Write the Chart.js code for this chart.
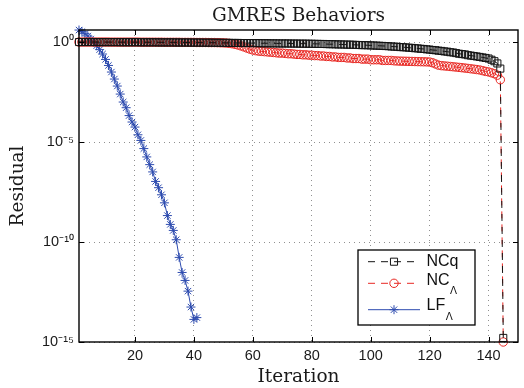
<!DOCTYPE html>
<html><head><meta charset="utf-8">
<script src="https://cdn.jsdelivr.net/npm/chart.js@4"></script>
<style>html,body{margin:0;padding:0;background:#fff}canvas{display:block}</style>
</head><body>
<canvas id="c" width="524" height="388"></canvas>
<script>
// ---- data ----
const iterations = [1,2,3,4,5,6,7,8,9,10,11,12,13,14,15,16,17,18,19,20,21,22,23,24,25,26,27,28,29,30,31,32,33,34,35,36,37,38,39,40,41,42,43,44,45,46,47,48,49,50,51,52,53,54,55,56,57,58,59,60,61,62,63,64,65,66,67,68,69,70,71,72,73,74,75,76,77,78,79,80,81,82,83,84,85,86,87,88,89,90,91,92,93,94,95,96,97,98,99,100,101,102,103,104,105,106,107,108,109,110,111,112,113,114,115,116,117,118,119,120,121,122,123,124,125,126,127,128,129,130,131,132,133,134,135,136,137,138,139,140,141,142,143,144,145];

const seriesNames = ['NCq', 'NC', 'LF'];
const seriesSubs  = ['', 'Λ', 'Λ'];

const ncq = [
 1.0,1.0,1.0,1.0,1.0,1.0,0.99,0.99,0.99,0.99,
 0.99,0.99,0.99,0.99,0.98,0.98,0.98,0.98,0.98,0.98,
 0.98,0.97,0.97,0.97,0.97,0.97,0.97,0.96,0.96,0.96,
 0.96,0.96,0.96,0.95,0.95,0.95,0.95,0.95,0.94,0.94,
 0.94,0.94,0.93,0.93,0.93,0.93,0.92,0.92,0.92,0.91,
 0.91,0.91,0.90,0.90,0.90,0.89,0.89,0.89,0.89,0.88,
 0.88,0.88,0.87,0.87,0.87,0.86,0.86,0.86,0.85,0.85,
 0.85,0.85,0.84,0.84,0.84,0.83,0.83,0.83,0.82,0.82,
 0.81,0.81,0.80,0.80,0.79,0.78,0.78,0.77,0.76,0.76,
 0.75,0.74,0.74,0.73,0.72,0.71,0.70,0.70,0.69,0.68,
 0.67,0.66,0.65,0.64,0.63,0.62,0.60,0.59,0.58,0.56,
 0.55,0.54,0.52,0.51,0.49,0.48,0.46,0.45,0.43,0.42,
 0.40,0.39,0.37,0.36,0.34,0.33,0.31,0.30,0.28,0.26,
 0.25,0.24,0.22,0.21,0.20,0.19,0.18,0.17,0.16,0.15,
 0.13,0.11,0.085,0.047,1.6e-15
];

const ncLambda = [
 1.0,1.0,1.0,1.0,1.0,1.0,1.0,1.0,1.0,1.0,
 1.0,0.99,0.99,0.99,0.99,0.99,0.99,0.99,0.99,0.99,
 0.99,0.98,0.98,0.98,0.98,0.98,0.98,0.98,0.98,0.97,
 0.97,0.97,0.97,0.97,0.97,0.96,0.96,0.96,0.96,0.96,
 0.95,0.95,0.95,0.95,0.94,0.94,0.94,0.93,0.92,0.91,
 0.89,0.86,0.82,0.77,0.71,0.64,0.57,0.50,0.44,0.40,
 0.37,0.35,0.34,0.33,0.32,0.31,0.30,0.29,0.28,0.28,
 0.27,0.26,0.26,0.25,0.24,0.24,0.23,0.23,0.22,0.22,
 0.21,0.21,0.20,0.20,0.19,0.19,0.18,0.18,0.17,0.17,
 0.17,0.16,0.16,0.15,0.15,0.15,0.14,0.14,0.14,0.13,
 0.13,0.13,0.13,0.12,0.12,0.12,0.12,0.115,0.113,0.111,
 0.110,0.109,0.108,0.107,0.106,0.105,0.104,0.103,0.102,0.100,
 0.092,0.080,0.070,0.066,0.064,0.062,0.060,0.058,0.056,0.054,
 0.052,0.050,0.048,0.046,0.044,0.042,0.040,0.037,0.034,0.032,
 0.029,0.026,0.022,0.013,1.0e-15
];

const lfLambda = [
 3.98,3.31,2.63,2.0,1.41,1.0,0.66,0.417,0.251,0.135,
 0.0676,0.0316,0.0141,6.3e-3,2.5e-3,1.0e-3,5.2e-4,2.1e-4,1.0e-4,5.6e-5,
 2.3e-5,1.2e-5,4.7e-6,1.8e-6,7.4e-7,3.2e-7,1.07e-7,5.2e-8,2.3e-8,9.1e-9,
 2.1e-9,7.6e-10,3.8e-10,1.3e-10,1.7e-11,3.0e-12,1.2e-12,3.5e-13,5.6e-14,1.35e-14,
 1.66e-14
];

const xTickValues = [20, 40, 60, 80, 100, 120, 140];
const xTickLabels = ['20', '40', '60', '80', '100', '120', '140'];
const yTickValues = [1e-15, 1e-10, 1e-5, 1];
const yTickLabels = ['10⁻¹⁵', '10⁻¹⁰', '10⁻⁵', '10⁰'];
const xRange = [1, 150];
const yRange = [1e-15, 4];

// ---- styles ----
const BLACK = 'rgb(20,20,20)';
const RED = 'rgb(232,40,35)';
const BLUE = 'rgb(45,75,175)';
const SERIF = '"DejaVu Serif", serif';
const SANS = '"Liberation Sans", Arial, sans-serif';

function drawMarker(ctx, style, r, x, y, color) {
  ctx.save();
  ctx.strokeStyle = color; ctx.lineWidth = 1; ctx.setLineDash([]);
  ctx.beginPath();
  if (style === 'rect') {
    const s = r * Math.SQRT1_2;
    ctx.rect(x - s, y - s, 2 * s, 2 * s);
  } else if (style === 'circle') {
    ctx.arc(x, y, r, 0, Math.PI * 2);
  } else if (style === 'star') {
    ctx.moveTo(x - r, y); ctx.lineTo(x + r, y);
    ctx.moveTo(x, y - r); ctx.lineTo(x, y + r);
    const d = r * Math.SQRT1_2;
    ctx.moveTo(x - d, y - d); ctx.lineTo(x + d, y + d);
    ctx.moveTo(x - d, y + d); ctx.lineTo(x + d, y - d);
  }
  ctx.stroke();
  ctx.restore();
}

const framePlugin = {
  id: 'frame',
  afterDatasetsDraw(chart) {
    const {ctx, chartArea: a, scales: {x, y}} = chart;
    ctx.save();
    ctx.strokeStyle = '#000';
    ctx.lineWidth = 1;
    ctx.beginPath();
    xTickValues.forEach(v => {
      const px = Math.round(x.getPixelForValue(v)) + 0.5;
      ctx.moveTo(px, a.bottom); ctx.lineTo(px, a.bottom - 5);
      ctx.moveTo(px, a.top); ctx.lineTo(px, a.top + 5);
    });
    yTickValues.forEach(v => {
      const py = Math.round(y.getPixelForValue(v)) + 0.5;
      ctx.moveTo(a.left, py); ctx.lineTo(a.left + 5, py);
      ctx.moveTo(a.right, py); ctx.lineTo(a.right - 5, py);
    });
    ctx.stroke();
    ctx.lineWidth = 1.4;
    ctx.strokeRect(a.left, a.top, a.right - a.left, a.bottom - a.top);
    ctx.restore();
  }
};

const legendPlugin = {
  id: 'mlegend',
  afterDraw(chart) {
    const {ctx, chartArea: a} = chart;
    const bx = a.right - 160, by = a.bottom - 92, bw = 117, bh = 75;
    ctx.save();
    ctx.fillStyle = '#fff';
    ctx.fillRect(bx, by, bw, bh);
    ctx.strokeStyle = '#000'; ctx.lineWidth = 1.3;
    ctx.strokeRect(bx, by, bw, bh);
    const lineY = [11.7, 33.3, 59.7];
    const textY = [11.2, 30.1, 55.8];
    chart.data.datasets.forEach((ds, i) => {
      const ly = by + lineY[i];
      ctx.strokeStyle = ds.borderColor; ctx.lineWidth = 1;
      ctx.setLineDash(ds.borderDash || []);
      ctx.beginPath(); ctx.moveTo(bx + 10, ly); ctx.lineTo(bx + 62, ly); ctx.stroke();
      ctx.setLineDash([]);
      drawMarker(ctx, ds.pointStyle, ds.pointRadius, bx + 36, ly, ds.pointBorderColor);
      ctx.fillStyle = '#111';
      ctx.textBaseline = 'middle'; ctx.textAlign = 'left';
      ctx.font = '16px ' + SANS;
      const tx = bx + 68.5, ty = by + textY[i];
      ctx.fillText(seriesNames[i], tx, ty);
      if (seriesSubs[i]) {
        const w = ctx.measureText(seriesNames[i]).width;
        ctx.font = '10.5px ' + SANS;
        ctx.fillText(seriesSubs[i], tx + w + 0.5, ty + 11.5);
      }
    });
    ctx.restore();
  }
};

new Chart(document.getElementById('c'), {
  type: 'line',
  data: {
    labels: iterations,
    datasets: [
      { label: 'NCq', data: ncq, borderColor: BLACK, borderWidth: 1, borderDash: [7, 6],
        pointStyle: 'rect', pointRadius: 5, pointBorderColor: BLACK, pointBackgroundColor: 'rgba(0,0,0,0)',
        pointBorderWidth: 1, clip: false, tension: 0 },
      { label: 'NCΛ', data: ncLambda, borderColor: RED, borderWidth: 1, borderDash: [7, 6],
        pointStyle: 'circle', pointRadius: 4.2, pointBorderColor: RED, pointBackgroundColor: 'rgba(0,0,0,0)',
        pointBorderWidth: 1, clip: false, tension: 0 },
      { label: 'LFΛ', data: lfLambda, borderColor: BLUE, borderWidth: 1,
        pointStyle: 'star', pointRadius: 4.5, pointBorderColor: BLUE, pointBackgroundColor: BLUE,
        pointBorderWidth: 1, clip: false, tension: 0 }
    ]
  },
  options: {
    responsive: false,
    animation: false,
    events: [],
    layout: { padding: { left: 0, right: 2, top: 0, bottom: 0 } },
    plugins: {
      legend: { display: false },
      tooltip: { enabled: false },
      title: {
        display: true, text: 'GMRES Behaviors', fullSize: false, color: '#1a1a1a',
        font: { family: SERIF, size: 18.5, weight: 'normal' },
        padding: { top: 5.2, bottom: 2.6 }
      }
    },
    scales: {
      x: {
        type: 'linear', min: xRange[0], max: xRange[1],
        afterBuildTicks: s => { s.ticks = xTickValues.map(v => ({ value: v })); },
        afterFit: s => { s.height = 46; },
        ticks: { callback: (v, i) => xTickLabels[i], font: { family: SANS, size: 14.5 }, color: '#1a1a1a', padding: 5, maxRotation: 0 },
        grid: { color: 'rgba(70,70,70,0.6)', lineWidth: 1, drawTicks: false },
        border: { display: false, dash: [1, 4] },
        title: { display: true, text: 'Iteration', color: '#1a1a1a', font: { family: SERIF, size: 18.5, weight: 'normal' }, padding: { top: 0, bottom: 0 } }
      },
      y: {
        type: 'logarithmic', min: yRange[0], max: yRange[1],
        afterBuildTicks: s => { s.ticks = yTickValues.map(v => ({ value: v })); },
        afterFit: s => { s.width = 79; },
        ticks: { callback: (v, i) => yTickLabels[i], font: { family: SANS, size: 14.5 }, color: '#1a1a1a', padding: 5 },
        grid: { color: 'rgba(70,70,70,0.6)', lineWidth: 1, drawTicks: false },
        border: { display: false, dash: [1, 4] },
        title: { display: true, text: 'Residual', color: '#1a1a1a', font: { family: SERIF, size: 18.5, weight: 'normal' }, padding: { top: 7.5, bottom: 0 } }
      }
    }
  },
  plugins: [framePlugin, legendPlugin]
});
</script>
</body></html>
